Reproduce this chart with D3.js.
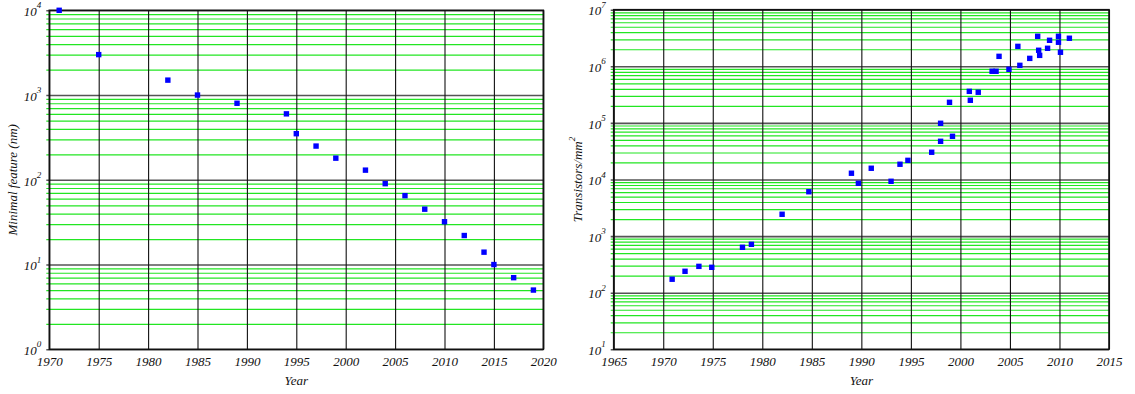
<!DOCTYPE html>
<html>
<head>
<meta charset="utf-8">
<script src="https://cdn.jsdelivr.net/npm/d3@7/dist/d3.min.js"></script>
<style>
  body { margin: 0; background: #fff; }
</style>
</head>
<body>
<svg id="chart" width="1135" height="394"></svg>
<script>
// left panel: minimal feature size
const featureYears = [1971, 1975, 1982, 1985, 1989, 1994, 1995, 1997, 1999, 2002, 2004, 2006, 2008, 2010, 2012, 2014, 2015, 2017, 2019];
const featureNm = [10000, 3000, 1500, 1000, 800, 600, 350, 250, 180, 130, 90, 65, 45, 32, 22, 14, 10, 7, 5];

// right panel: transistor density
const densityYears = [1970.9, 1972.2, 1973.6, 1974.9, 1978.0, 1978.9, 1982.0, 1984.7, 1989.0, 1989.7,
  1991.0, 1993.0, 1993.9, 1994.7, 1997.1, 1998.0, 1998.0, 1999.2, 1998.9, 2000.9,
  2001.0, 2001.8, 2003.2, 2003.6, 2003.9, 2004.9, 2005.8, 2006.0, 2007.0, 2007.8,
  2007.9, 2008.0, 2008.8, 2009.0, 2009.9, 2009.9, 2010.1, 2011.0];
const densityValues = [173, 239, 292, 281, 634, 716, 2430, 6080, 12900, 8570,
  15800, 9300, 18600, 21800, 30300, 47300, 98400, 58000, 231000, 361000,
  251000, 348000, 817000, 817000, 1500000, 885000, 2250000, 1040000, 1380000, 3390000,
  1920000, 1560000, 2080000, 2880000, 3390000, 2660000, 1770000, 3130000];

const featureXTicks = [1970, 1975, 1980, 1985, 1990, 1995, 2000, 2005, 2010, 2015, 2020];
const densityXTicks = [1965, 1970, 1975, 1980, 1985, 1990, 1995, 2000, 2005, 2010, 2015];
const featureYTicks = [1, 10, 100, 1000, 10000];
const densityYTicks = [10, 100, 1000, 10000, 100000, 1000000, 10000000];

const FONT = '"Liberation Serif", "Times New Roman", serif';

const svg = d3.select('#chart');

const panels = [
  { left: 49.3, right: 543.3, top: 10.3, bottom: 349.3, years: featureYears, values: featureNm,
    xTicks: featureXTicks, yTicks: featureYTicks, yLabel: 'Minimal feature (nm)', labelX: 17 },
  { left: 613.7, right: 1109, top: 9.7, bottom: 349.3, years: densityYears, values: densityValues,
    xTicks: densityXTicks, yTicks: densityYTicks, yLabel: 'Transistors/mm', sup: '2', labelX: 582 },
];

panels.forEach((p) => {
  const w = p.right - p.left;
  const h = p.bottom - p.top;
  const x = d3.scaleLinear().domain(d3.extent(p.xTicks)).range([0, w]);
  const y = d3.scaleLog().domain(d3.extent(p.yTicks)).range([h, 0]);

  const g = svg.append('g').attr('transform', `translate(${p.left}, ${p.top})`);

  // minor log grid (2..9 in each decade)
  const minor = [];
  p.yTicks.slice(0, -1).forEach((d) => {
    for (let m = 2; m <= 9; m++) minor.push(d * m);
  });
  const minorAxis = d3.axisLeft(y).tickValues(minor).tickSize(-w).tickSizeOuter(0).tickFormat('');
  g.append('g').attr('class', 'minor-grid').call(minorAxis)
    .call((s) => s.select('.domain').remove())
    .call((s) => s.selectAll('line').attr('x1', -3).attr('stroke', '#22e622').attr('stroke-width', 1.2));

  // decade grid lines + labels 10^n
  const majorAxis = d3.axisLeft(y).tickValues(p.yTicks).tickSize(-w).tickSizeOuter(0).tickFormat('');
  const yAxisG = g.append('g').attr('class', 'y-axis').call(majorAxis);
  yAxisG.select('.domain').remove();
  yAxisG.selectAll('line').attr('x1', -3).attr('stroke', '#555').attr('stroke-width', 1.6);
  yAxisG.selectAll('.tick text').each(function (d) {
    const t = d3.select(this).attr('font-size', 13).attr('dy', '0.4em').attr('x', -8);
    t.append('tspan').text('10');
    t.append('tspan').attr('font-size', 9).attr('dy', '-0.85em').text(Math.round(Math.log10(d)));
  });
  yAxisG.attr('font-family', null).attr('font-size', null);

  // vertical grid lines
  const xAxis = d3.axisBottom(x).tickValues(p.xTicks).tickSize(-h).tickSizeOuter(0).tickFormat(d3.format('d'));
  const xAxisG = g.append('g').attr('class', 'x-axis').attr('transform', `translate(0, ${h})`).call(xAxis);
  xAxisG.select('.domain').remove();
  xAxisG.selectAll('line').attr('stroke', '#111').attr('stroke-width', 1.1);
  xAxisG.selectAll('.tick text').attr('font-size', 13).attr('y', 17).attr('dy', 0);
  xAxisG.attr('font-family', null).attr('font-size', null);

  // frame
  g.append('rect').attr('width', w).attr('height', h)
    .attr('fill', 'none').attr('stroke', '#111').attr('stroke-width', 1.6);

  // points
  const pts = p.years.map((yr, i) => ({ yr, v: p.values[i] }));
  g.append('g').attr('class', 'points').selectAll('rect')
    .data(pts)
    .enter()
    .append('rect')
    .attr('x', (d) => x(d.yr) - 2.7)
    .attr('y', (d) => y(d.v) - 2.7)
    .attr('width', 5.4)
    .attr('height', 5.4)
    .attr('fill', '#0000ff');

  // axis titles
  g.append('text').attr('x', w / 2).attr('y', h + 36).attr('text-anchor', 'middle')
    .attr('font-size', 13).text('Year');

  const yl = svg.append('text')
    .attr('transform', `translate(${p.labelX}, ${p.top + h / 2}) rotate(-90)`)
    .attr('text-anchor', 'middle').attr('font-size', 13);
  yl.append('tspan').text(p.yLabel);
  if (p.sup) yl.append('tspan').attr('font-size', 9).attr('dy', '-0.8em').text(p.sup);
});

// serif italic text, as in the original plot
svg.selectAll('text')
  .style('font-family', FONT)
  .style('font-style', 'italic')
  .attr('fill', '#111');
</script>
</body>
</html>
